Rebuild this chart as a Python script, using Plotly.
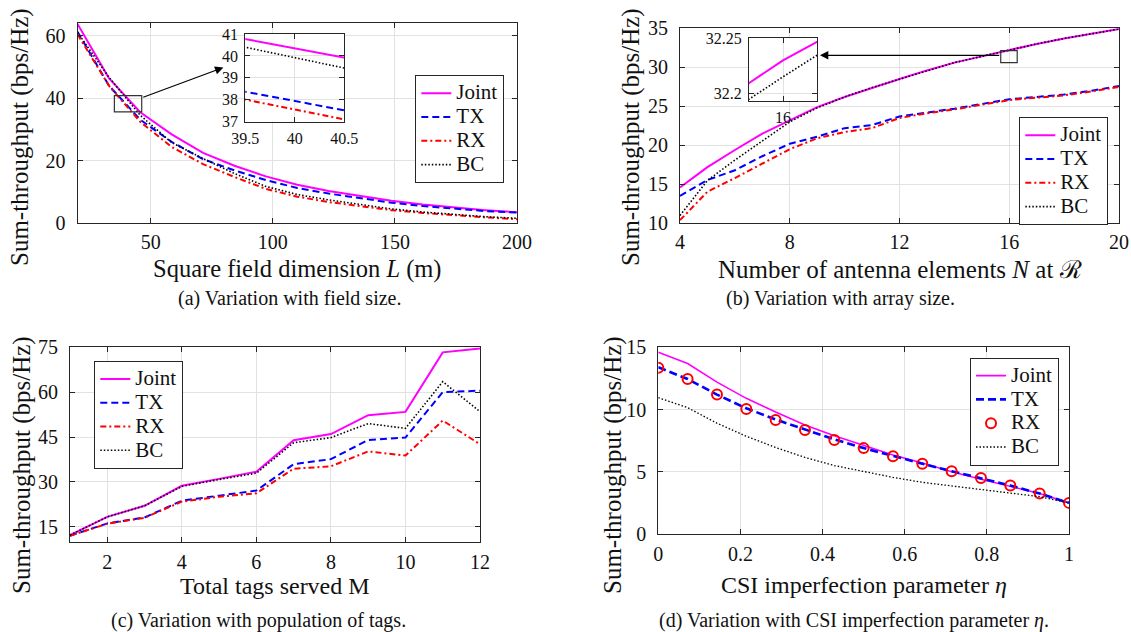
import plotly.graph_objects as go

# ---------------- data ----------------
# (a) field size
L_vals = [20, 32.86, 45.71, 58.57, 71.43, 84.29, 97.14, 110, 122.86, 135.71, 148.57, 161.43, 174.29, 187.14, 200]
joint_a = [63.7, 46.4, 35.5, 28.4, 22.5, 18.4, 15.0, 12.3, 10.3, 8.7, 7.2, 6.0, 5.0, 4.2, 3.5]
tx_a = [61.2, 44.0, 33.1, 26.0, 20.5, 16.9, 13.8, 11.3, 9.5, 8.0, 6.6, 5.5, 4.6, 3.9, 3.4]
rx_a = [60.4, 44.0, 32.4, 24.4, 18.9, 14.8, 11.0, 8.5, 6.8, 5.4, 4.2, 3.3, 2.5, 1.9, 1.3]
bc_a = [61.0, 46.7, 34.5, 25.8, 20.7, 15.9, 11.8, 9.2, 7.5, 6.0, 4.6, 3.6, 2.8, 2.1, 1.6]

# (b) array size
N_vals = [4, 5, 6, 7, 8, 9, 10, 11, 12, 13, 14, 15, 16, 17, 18, 19, 20]
joint_b = [14.6, 17.2, 19.4, 21.5, 23.2, 24.9, 26.2, 27.4, 28.5, 29.6, 30.6, 31.4, 32.23, 33.0, 33.7, 34.3, 34.9]
tx_b = [13.5, 15.55, 16.8, 18.6, 20.2, 21.1, 22.2, 22.6, 23.7, 24.2, 24.7, 25.3, 25.9, 26.2, 26.5, 27.0, 27.6]
rx_b = [10.4, 14.05, 15.8, 17.6, 19.5, 20.9, 21.7, 22.2, 23.5, 24.1, 24.6, 25.2, 25.8, 26.1, 26.4, 26.9, 27.5]
bc_b = [11.0, 15.5, 18.1, 20.6, 23.0, 24.8, 26.2, 27.4, 28.5, 29.6, 30.6, 31.4, 32.215, 33.0, 33.7, 34.3, 34.9]

# (c) number of tags
M_vals = [1, 2, 3, 4, 5, 6, 7, 8, 9, 10, 11, 12]
joint_c = [12.2, 18.3, 22.0, 28.7, 31.0, 33.4, 43.9, 46.0, 52.3, 53.4, 73.3, 74.6]
tx_c = [12.0, 16.1, 18.1, 23.7, 25.4, 27.1, 35.9, 37.6, 44.0, 44.8, 60.0, 60.5]
rx_c = [12.0, 16.0, 18.0, 23.4, 25.0, 26.2, 34.4, 35.2, 40.2, 38.8, 50.5, 42.6]
bc_c = [12.2, 18.3, 22.0, 28.5, 30.8, 32.9, 43.1, 44.8, 49.5, 47.9, 63.5, 53.5]

# (d) CSI imperfection
eta_vals = [0, 0.0714, 0.1429, 0.2143, 0.2857, 0.3571, 0.4286, 0.5, 0.5714, 0.6429, 0.7143, 0.7857, 0.8571, 0.9286, 1.0]
joint_d = [14.6, 13.7, 12.2, 10.9, 9.8, 8.75, 7.9, 7.1, 6.35, 5.7, 5.0, 4.4, 3.85, 3.25, 2.5]
tx_d = [13.4, 12.45, 11.2, 10.1, 9.2, 8.4, 7.6, 6.9, 6.25, 5.65, 5.05, 4.5, 3.9, 3.25, 2.5]
rx_d = [13.35, 12.45, 11.2, 10.05, 9.15, 8.35, 7.55, 6.9, 6.25, 5.65, 5.05, 4.5, 3.9, 3.25, 2.5]
bc_d = [10.95, 10.15, 8.9, 7.85, 6.95, 6.15, 5.5, 5.0, 4.55, 4.15, 3.85, 3.55, 3.25, 3.0, 2.5]

names = ["Joint", "TX", "RX", "BC"]

# ---------------- styling ----------------
W, H = 1131, 632
FONT = "Liberation Serif"
AX = "#262626"
GRID = "#e2e2e2"
TXT = "#111111"
LEG_TXT = 21

def px_x(p):
    return p / W

def px_y(p):
    return 1 - p / H

styles = {
    "Joint": dict(color="#FF00FF", width=2, dash="solid"),
    "TX": dict(color="#0000FF", width=2, dash="7px,4px"),
    "RX": dict(color="#FF0000", width=2, dash="6px,3px,2px,3px"),
    "BC": dict(color="#000000", width=1.6, dash="1.5px,2px"),
}

fig = go.Figure()

def add_set(x, ys, ax, legend=None, show=True, style_over=None):
    for nm, y in zip(names, ys):
        st = dict(styles[nm])
        mode = "lines"
        marker = None
        if style_over and nm in style_over:
            o = style_over[nm]
            if o.get("mode") == "markers":
                mode = "markers"
                marker = o["marker"]
            else:
                st.update(o)
        kw = dict(x=x, y=y, name=f"<span style='font-size:{LEG_TXT}px'>{nm}</span>",
                  mode=mode, xaxis="x" + ax, yaxis="y" + ax,
                  showlegend=show, hoverinfo="skip")
        if mode == "lines":
            kw["line"] = st
        else:
            kw["marker"] = marker
        if legend:
            kw["legend"] = legend
        fig.add_trace(go.Scatter(**kw))

# main panels
add_set(L_vals, [joint_a, tx_a, rx_a, bc_a], "", legend="legend")
add_set(N_vals, [joint_b, tx_b, rx_b, bc_b], "2", legend="legend2")
add_set(M_vals, [joint_c, tx_c, rx_c, bc_c], "3", legend="legend3")
add_set(eta_vals, [joint_d, tx_d, rx_d, bc_d], "4", legend="legend4",
        style_over={"Joint": dict(width=1.6),
                    "TX": dict(width=2.6, dash="8px,4px"),
                    "RX": dict(mode="markers",
                               marker=dict(symbol="circle-open", size=10, color="#FF0000",
                                           line=dict(width=2, color="#FF0000"))),
                    "BC": dict(width=1.3, dash="1.5px,2px")})
# insets
add_set(L_vals, [joint_a, tx_a, rx_a, bc_a], "5", show=False)
add_set(N_vals, [joint_b, tx_b, rx_b, bc_b], "6", show=False)

def axis(domain, rng, tickvals, anchor, size=20, ticktext=None, grid=True, standoff=None):
    d = dict(domain=domain, range=rng, tickvals=tickvals, anchor=anchor,
             automargin=False,
             showline=True, linecolor=AX, linewidth=1.2, mirror="ticks",
             ticks="inside", ticklen=5, tickcolor=AX, tickwidth=1,
             showgrid=grid, gridcolor=GRID, gridwidth=1, zeroline=False,
             tickfont=dict(family=FONT, size=size, color=TXT),
             fixedrange=True)
    if ticktext is not None:
        d["ticktext"] = ticktext
    if standoff is not None:
        d["ticklabelstandoff"] = standoff
    return d

lay = {}
# (a)
lay["xaxis"] = axis([px_x(77.5), px_x(517)], [20, 200], [50, 100, 150, 200], "y", standoff=1)
lay["yaxis"] = axis([px_y(223.3), px_y(23)], [0, 64], [0, 20, 40, 60], "x", standoff=7)
# (b)
lay["xaxis2"] = axis([px_x(680), px_x(1119)], [4, 20], [4, 8, 12, 16, 20], "y2", standoff=1)
lay["yaxis2"] = axis([px_y(223.3), px_y(28.3)], [10, 35], [10, 15, 20, 25, 30, 35], "x2", standoff=7)
# (c)
lay["xaxis3"] = axis([px_x(70), px_x(480)], [1, 12], [2, 4, 6, 8, 10, 12], "y3", standoff=2)
lay["yaxis3"] = axis([px_y(541.7), px_y(347.3)], [10, 75], [15, 30, 45, 60, 75], "x3", standoff=7)
# (d)
lay["xaxis4"] = axis([px_x(658.3), px_x(1069)], [0, 1], [0, 0.2, 0.4, 0.6, 0.8, 1], "y4",
                     ticktext=["0", "0.2", "0.4", "0.6", "0.8", "1"], standoff=2)
lay["yaxis4"] = axis([px_y(534), px_y(347.3)], [0, 15], [0, 5, 10, 15], "x4", standoff=7)
# inset (a)
lay["xaxis5"] = axis([px_x(245.3), px_x(344.3)], [39.5, 40.5], [39.5, 40, 40.5], "y5", size=16,
                     ticktext=["39.5", "40", "40.5"], standoff=2)
lay["yaxis5"] = axis([px_y(121.7), px_y(34)], [37, 41], [37, 38, 39, 40, 41], "x5", size=16, standoff=3)
# inset (b)
lay["xaxis6"] = axis([px_x(749), px_x(817)], [15.975, 16.025], [16], "y6", size=16, standoff=2)
lay["yaxis6"] = axis([px_y(100.7), px_y(38.3)], [32.1933, 32.25], [32.2, 32.25], "x6", size=16,
                     ticktext=["32.2", "32.25"], standoff=3)

def legend_cfg(xp, yp):
    return dict(x=px_x(xp), y=px_y(yp), xanchor="left", yanchor="top",
                bgcolor="white", bordercolor=AX, borderwidth=1,
                font=dict(family=FONT, size=16, color=TXT),
                tracegroupgap=0, itemwidth=30)

lay["legend"] = legend_cfg(415.3, 75.3)
lay["legend2"] = legend_cfg(1019.3, 117.3)
lay["legend3"] = legend_cfg(94.3, 361)
lay["legend4"] = legend_cfg(970, 357.7)

ann = []
def text(xp, yp, s, size, angle=0):
    ann.append(dict(x=px_x(xp), y=px_y(yp), xref="paper", yref="paper", text=s,
                    showarrow=False, textangle=angle, xanchor="center", yanchor="middle",
                    font=dict(family=FONT, size=size, color=TXT)))

ylab = "Sum-throughput (bps/Hz)"
text(20, 137, ylab, 25, -90)
text(631, 137, ylab, 25, -90)
text(22, 465, ylab, 25, -90)
text(613, 465, ylab, 25, -90)

text(297, 269, "Square field dimension <i>L</i> (m)", 24.5)
text(900, 269, "Number of antenna elements <i>N</i> at ℛ", 25)
text(275, 586, "Total tags served M", 24)
text(863.5, 585, "CSI imperfection parameter <i>η</i>", 24)

text(289, 298, "(a) Variation with field size.", 20)
text(840, 298, "(b) Variation with array size.", 20)
text(258, 620.7, "(c) Variation with population of tags.", 20)
text(854, 620.7, "(d) Variation with CSI imperfection parameter <i>η</i>.", 20)

# zoom arrows
ann.append(dict(x=79.75, y=49.8, ax=46.3, ay=40.1, xref="x", yref="y", axref="x", ayref="y",
                text="", showarrow=True, arrowhead=2, arrowsize=1.4, arrowwidth=1.2, arrowcolor="#000"))
ann.append(dict(x=9.1, y=31.54, ax=15.69, ay=31.54, xref="x2", yref="y2", axref="x2", ayref="y2",
                text="", showarrow=True, arrowhead=2, arrowsize=1.4, arrowwidth=1.2, arrowcolor="#000"))

shapes = [
    dict(type="rect", xref="x", yref="y", x0=35.1, x1=46.3, y0=35.6, y1=40.8,
         line=dict(color="#333", width=1.2)),
    dict(type="rect", xref="x2", yref="y2", x0=15.69, x1=16.29, y0=30.6, y1=32.13,
         line=dict(color="#333", width=1.2)),
]

fig.update_layout(template="none", width=W, height=H, autosize=False,
                  margin=dict(l=0, r=0, t=0, b=0, pad=0, autoexpand=False),
                  paper_bgcolor="white", plot_bgcolor="white",
                  font=dict(family=FONT, color=TXT),
                  annotations=ann, shapes=shapes, **lay)

fig.write_html("out.html", config={"displayModeBar": False, "staticPlot": False},
               post_script="document.body.style.margin='0px';document.body.style.overflow='hidden';")
